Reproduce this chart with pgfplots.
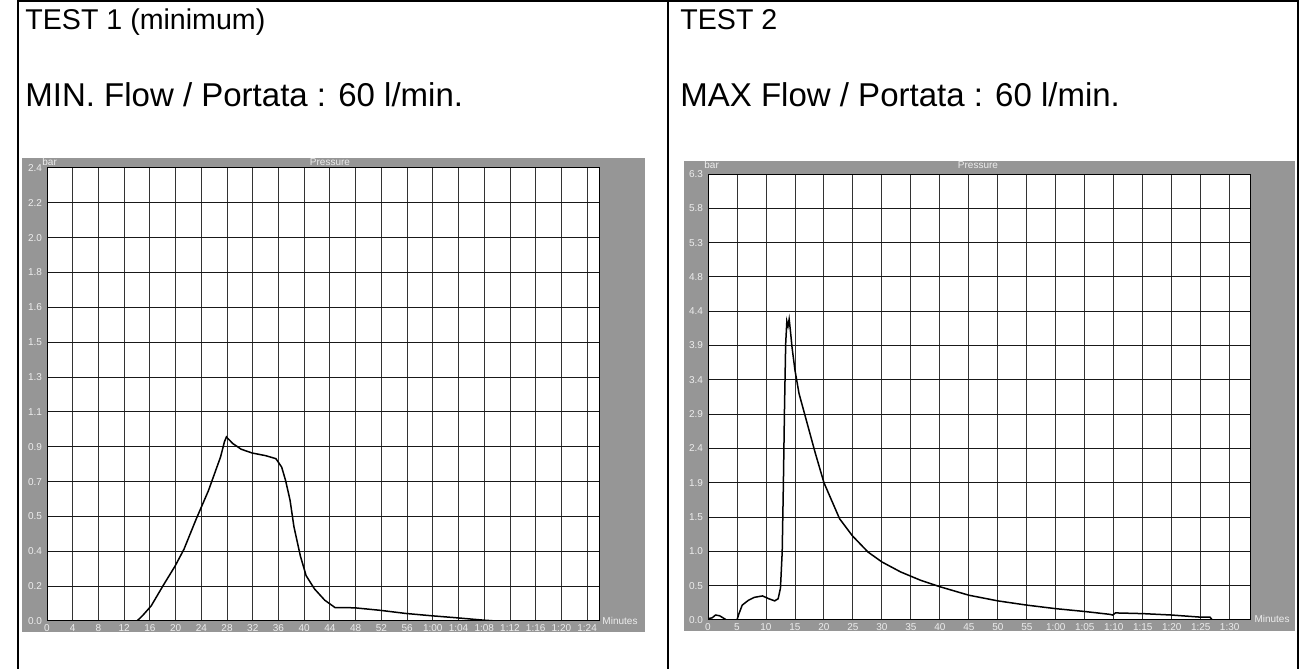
\documentclass[border=0pt]{standalone}
\usepackage{pgfplots}
\pgfplotsset{compat=1.18}
\usepackage{fontspec}
\setmainfont{Liberation Sans}

\definecolor{scangray}{gray}{0.59}
\definecolor{labgray}{gray}{0.93}

\pgfplotsset{
  scanchart/.style={
    anchor=south west, scale only axis,
    xmin=0, ymin=0,
    grid=major,
    every axis y grid/.style={black!90, line width=0.5pt},
    every axis x grid/.style={black!80, line width=0.45pt},
    major tick length=0pt,
    axis line style={black, line width=0.5pt},
    axis background/.style={fill=white},
    tick label style={font=\fontsize{5}{6}\selectfont, text=labgray},
    /pgf/number format/assume math mode=true,
    xticklabel style={yshift=1.8pt},
    yticklabel style={xshift=1pt},
  }
}

\begin{document}
\begin{tikzpicture}[x=0.5pt,y=0.5pt]
\useasboundingbox (0,0) rectangle (1314,669);

%% table rules of the scanned sheet
\draw[black, line width=0.6pt] (18,0) -- (18,669);
\draw[black, line width=0.6pt] (668,0) -- (668,669);
\draw[black, line width=0.6pt] (1298,0) -- (1298,669);
\draw[black, line width=0.6pt] (18,668) -- (1298,668);

%% headings
\node[anchor=base west, font=\fontsize{14.3}{16}\selectfont, inner sep=0pt] at (25,639) {TEST 1 (minimum)};
\node[anchor=base west, font=\fontsize{16.5}{18}\selectfont, inner sep=0pt] at (25,562) {MIN. Flow / Portata : 60 l/min.};
\node[anchor=base west, font=\fontsize{14.3}{16}\selectfont, inner sep=0pt] at (680,639) {TEST 2};
\node[anchor=base west, font=\fontsize{16.5}{18}\selectfont, inner sep=0pt] at (680,562) {MAX Flow / Portata : 60 l/min.};

%% grey chart frames
\fill[scangray] (22,37) rectangle (645,511);
\fill[scangray] (684,38) rectangle (1295,508);

%% TEST 1
\begin{axis}[scanchart,
  at={(23.5pt,24pt)}, width=276.5pt, height=226.5pt,
  xmax=86, ymax=2.4,
  xtick={0,4,...,84},
  xticklabels={0,4,8,12,16,20,24,28,32,36,40,44,48,52,56,1:00,1:04,1:08,1:12,1:16,1:20,1:24},
  ytick={0,0.184615,0.369231,0.553846,0.738462,0.923077,1.107692,1.292308,1.476923,1.661538,1.846154,2.030769,2.215385,2.4},
  yticklabels={0.0,0.2,0.4,0.5,0.7,0.9,1.1,1.3,1.5,1.6,1.8,2.0,2.2,2.4},
]
\addplot[black, line width=0.75pt] coordinates {
(0,0) (14.0,0) (14.9,0.03) (16.2,0.08) (18.1,0.19) (19.9,0.29) (21.3,0.38)
(23.2,0.54) (25.1,0.69) (27.0,0.87) (27.6,0.95) (27.9,0.975) (28.9,0.94)
(30.2,0.91) (31.9,0.89) (34.0,0.876) (35.6,0.86) (36.5,0.815) (37.1,0.745)
(37.8,0.64) (38.4,0.50) (39.4,0.345) (40.3,0.24) (41.6,0.17) (43.2,0.11)
(44.8,0.071) (47.8,0.07) (51.7,0.057) (55.8,0.04) (59.7,0.028) (63.7,0.017)
(67.7,0.005) (69.8,0) (72,0)
};
\end{axis}

%% TEST 2
\begin{axis}[scanchart,
  at={(354pt,24.5pt)}, width=271pt, height=223pt,
  xmax=93.5, ymax=6.3,
  xtick={0,5,...,90},
  xticklabels={0,5,10,15,20,25,30,35,40,45,50,55,1:00,1:05,1:10,1:15,1:20,1:25,1:30},
  ytick={0,0.484615,0.969231,1.453846,1.938462,2.423077,2.907692,3.392308,3.876923,4.361538,4.846154,5.330769,5.815385,6.3},
  yticklabels={0.0,0.5,1.0,1.5,1.9,2.4,2.9,3.4,3.9,4.4,4.8,5.3,5.8,6.3},
]
\addplot[black, line width=0.75pt] coordinates {
(0,0.02) (0.7,0.03) (1.3,0.07) (2.0,0.06) (2.6,0.03) (3.2,0) (5.0,0)
(5.3,0.08) (5.9,0.21) (7.0,0.28) (8.0,0.32) (9.4,0.34) (10.5,0.30)
(11.5,0.27) (12.1,0.30) (12.5,0.45) (12.8,0.96) (13.0,1.9) (13.2,3.0)
(13.4,3.9) (13.6,4.22) (13.8,4.15) (14.0,4.25) (14.2,4.1) (14.5,3.85)
(15.0,3.53) (15.7,3.2) (17.1,2.78) (18.5,2.36) (20,1.94) (22.7,1.43)
(24.9,1.19) (27.6,0.96) (30,0.82) (33.2,0.68) (36.7,0.56) (40,0.47)
(45,0.35) (50,0.27) (55,0.21) (60,0.16) (65,0.12) (69.3,0.08) (69.8,0.07)
(70.3,0.10) (75,0.09) (80,0.07) (85,0.04) (86.6,0.04) (87,0) (90,0)
};
\end{axis}

%% labels in the grey frames
\begin{scope}[every node/.style={font=\fontsize{5}{6}\selectfont, text=labgray, inner sep=0pt}]
\node[anchor=west] at (42,507) {bar};
\node at (330,507) {Pressure};
\node at (620,48) {Minutes};
\node[anchor=west] at (704,504) {bar};
\node at (978,504) {Pressure};
\node at (1272,50) {Minutes};
\end{scope}
\end{tikzpicture}
\end{document}
